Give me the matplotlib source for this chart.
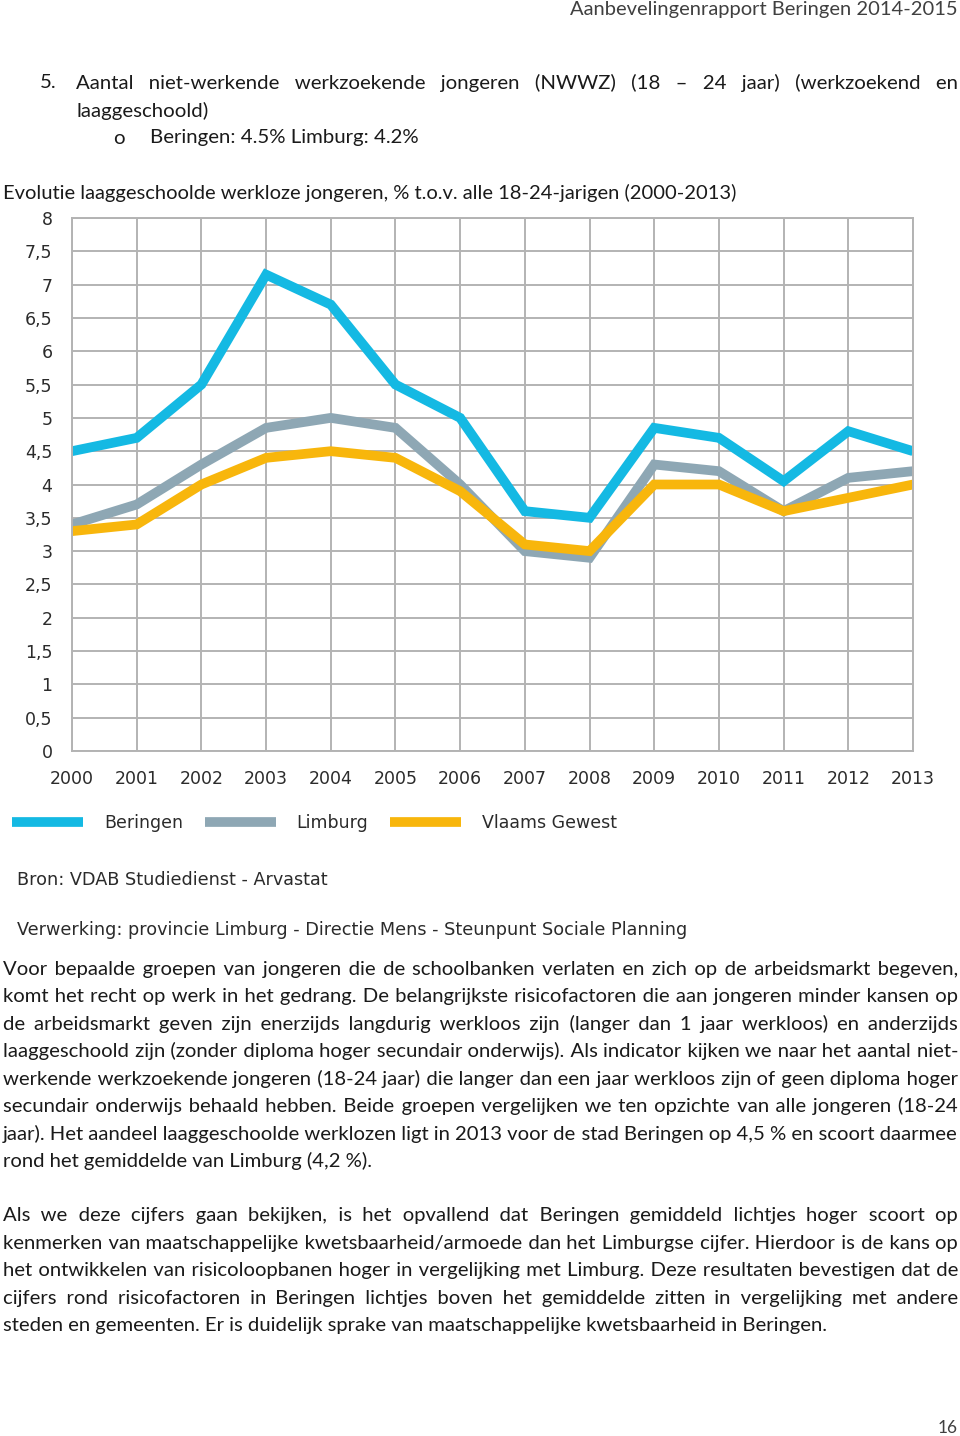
import matplotlib
matplotlib.use("Agg")
import matplotlib.pyplot as plt

# data
years = [2000, 2001, 2002, 2003, 2004, 2005, 2006, 2007, 2008, 2009, 2010, 2011, 2012, 2013]
beringen = [4.5, 4.7, 5.5, 7.15, 6.7, 5.5, 5.0, 3.6, 3.5, 4.85, 4.7, 4.05, 4.8, 4.5]
limburg = [3.4, 3.7, 4.3, 4.85, 5.0, 4.85, 4.0, 3.0, 2.9, 4.3, 4.2, 3.6, 4.1, 4.2]
vlaams = [3.3, 3.4, 4.0, 4.4, 4.5, 4.4, 3.9, 3.1, 3.0, 4.0, 4.0, 3.6, 3.8, 4.0]
series_names = ["Beringen", "Limburg", "Vlaams Gewest"]
yticks = [0, 0.5, 1, 1.5, 2, 2.5, 3, 3.5, 4, 4.5, 5, 5.5, 6, 6.5, 7, 7.5, 8]
ytick_labels = [("%g" % v).replace(".", ",") for v in yticks]

W, H = 960, 1436
BODY = ["Lato", "DejaVu Sans"]
CHART = ["DejaVu Sans"]
INK = "#1a1a1a"
EXTRA_SPACES = ["\u2009", "\u200a", "\u2006", "\u2005"]

fig = plt.figure(figsize=(W / 100, H / 100), dpi=100)
fig.patch.set_facecolor("white")
renderer = fig.canvas.get_renderer()


def fx(x):
    return x / W


def fy(y):
    return 1 - y / H


def text_width(s, size, family=BODY):
    t = fig.text(0, 0, s, fontsize=size, family=family)
    w = t.get_window_extent(renderer).width
    t.remove()
    return w


def adv(s, size):
    return text_width("|" + s + "|", size) - text_width("||", size)


def justify(line, y, size, x0=3, x1=958, last=False, **kw):
    # one Text per line; the gaps are filled with a mix of space characters
    words = line.split()
    if not last and len(words) > 1:
        w_sp = adv(" ", size)
        others = []
        for ch in EXTRA_SPACES:
            w = adv(ch, size)
            if 0.3 < w < 1.6 * w_sp:
                others.append((ch, w))
        cands = [(" " * n, n * w_sp) for n in range(1, 8)]
        for ch, w in others:
            cands += [(" " * n + ch * m, n * w_sp + m * w)
                      for n in range(0, 7) for m in range(1, 7)]
        advs = [adv(w, size) for w in words]
        g = (x1 - x0 - sum(advs)) / (len(words) - 1)
        out = words[0]
        pos = target = advs[0]
        for i in range(1, len(words)):
            target += g
            s, w = min(cands, key=lambda c: abs(c[1] - (target - pos)))
            out += s + words[i]
            pos += w + advs[i]
            target += advs[i]
        line = out
    fig.text(fx(x0), fy(y), line, fontsize=size, family=BODY, va="center", ha="left", **kw)


# page header
fig.text(fx(958), fy(10), "Aanbevelingenrapport Beringen 2014-2015", fontsize=14.5,
         family=BODY, color="#404040", ha="right", va="center")

# item 5
fs = 14.7
justify("5.", 83, fs, x0=40, last=True, color=INK)
justify("Aantal niet-werkende werkzoekende jongeren (NWWZ) (18 \u2013 24 jaar) (werkzoekend en",
        83, fs, x0=76, color=INK)
justify("laaggeschoold)", 111, fs, x0=76, last=True, color=INK)
justify("o", 138, fs, x0=113, last=True, color=INK)
justify("Beringen: 4.5% Limburg: 4.2%", 138, fs, x0=150, last=True, color=INK)

# chart title, sized to span the same width as in the page
title = "Evolutie laaggeschoolde werkloze jongeren, % t.o.v. alle 18-24-jarigen (2000-2013)"
ts = 13 * 732 / text_width(title, 13)
fig.text(fx(3), fy(193), title, fontsize=ts, family=BODY, va="center", color=INK)

# chart
ax = fig.add_axes([fx(72), fy(751), fx(913 - 72), (751 - 218) / H])
colors = ["#14b9e3", "#8ea7b4", "#f8b60c"]
for vals, name, c in zip([beringen, limburg, vlaams], series_names, colors):
    ax.plot(years, vals, color=c, lw=7, label=name, solid_joinstyle="miter",
            solid_capstyle="butt")
ax.set_xlim(2000, 2013)
ax.set_ylim(0, 8)
ax.set_xticks(years)
ax.set_xticklabels([str(y) for y in years])
ax.set_yticks(yticks)
ax.set_yticklabels(ytick_labels)
ax.grid(True, color="#b3b3b3", lw=1.4)
ax.set_axisbelow(True)
for s in ax.spines.values():
    s.set_color("#b3b3b3")
    s.set_linewidth(1.4)
ax.tick_params(length=0, labelsize=12.5, labelcolor="#2b2b2b")
ax.tick_params(axis="x", pad=14)
ax.tick_params(axis="y", pad=14)
for lab in ax.get_xticklabels() + ax.get_yticklabels():
    lab.set_family(CHART)

leg = fig.legend(loc="center left", bbox_to_anchor=(fx(12), fy(823)), ncol=3, frameon=False,
                 borderpad=0, borderaxespad=0,
                 handlelength=4.1, handletextpad=1.2, columnspacing=1.25,
                 prop={"family": CHART, "size": 12.5})
for h in leg.get_lines():
    h.set_linewidth(7)
for t in leg.get_texts():
    t.set_color("#2b2b2b")

fig.text(fx(17), fy(880), "Bron: VDAB Studiedienst - Arvastat", fontsize=12.7, family=CHART,
         va="center", color="#2b2b2b")
fig.text(fx(17), fy(930), "Verwerking: provincie Limburg - Directie Mens - Steunpunt Sociale Planning",
         fontsize=12.7, family=CHART, va="center", color="#2b2b2b")

# body text
para1 = [
    "Voor bepaalde groepen van jongeren die de schoolbanken verlaten en zich op de arbeidsmarkt begeven,",
    "komt het recht op werk in het gedrang. De belangrijkste risicofactoren die aan jongeren minder kansen op",
    "de arbeidsmarkt geven zijn enerzijds langdurig werkloos zijn (langer dan 1 jaar werkloos) en anderzijds",
    "laaggeschoold zijn (zonder diploma hoger secundair onderwijs). Als indicator kijken we naar het aantal niet-",
    "werkende werkzoekende jongeren (18-24 jaar) die langer dan een jaar werkloos zijn of geen diploma hoger",
    "secundair onderwijs behaald hebben. Beide groepen vergelijken we ten opzichte van alle jongeren (18-24",
    "jaar). Het aandeel laaggeschoolde werklozen ligt in 2013 voor de stad Beringen op 4,5 % en scoort daarmee",
    "rond het gemiddelde van Limburg (4,2 %).",
]
para2 = [
    "Als we deze cijfers gaan bekijken, is het opvallend dat Beringen gemiddeld lichtjes hoger scoort op",
    "kenmerken van maatschappelijke kwetsbaarheid/armoede dan het Limburgse cijfer. Hierdoor is de kans op",
    "het ontwikkelen van risicoloopbanen hoger in vergelijking met Limburg. Deze resultaten bevestigen dat de",
    "cijfers rond risicofactoren in Beringen lichtjes boven het gemiddelde zitten in vergelijking met andere",
    "steden en gemeenten. Er is duidelijk sprake van maatschappelijke kwetsbaarheid in Beringen.",
]
# body size: as large as the page's, but the widest line must still fit
widest = max(text_width(l, 12) for l in para1[:-1] + para2[:-1])
bs = min(14.9, 12 * 950 / widest)
for i, line in enumerate(para1):
    justify(line, 969 + i * 27.45, bs, last=(i == len(para1) - 1), color=INK)
for i, line in enumerate(para2):
    justify(line, 1216 + i * 27.45, bs, last=(i == len(para2) - 1), color=INK)

fig.text(fx(958), fy(1428), "16", fontsize=12.5, family=BODY, ha="right", va="center",
         color="#404040")

fig.savefig("out.png", dpi=100)
